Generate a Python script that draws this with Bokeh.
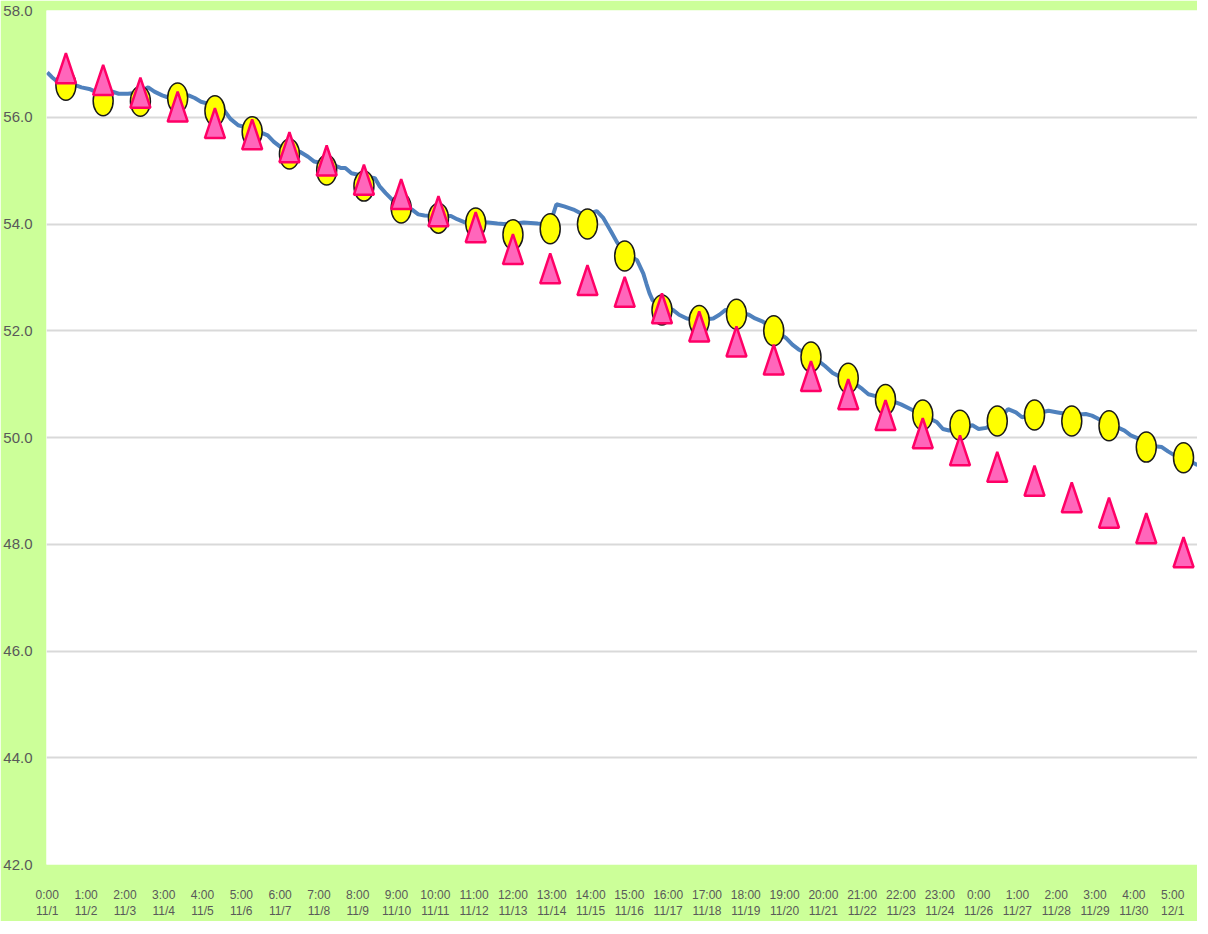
from datetime import datetime
from bokeh.plotting import figure
from bokeh.models import FixedTicker, NumeralTickFormatter, Range1d
from bokeh.embed import file_html
from bokeh.resources import INLINE

START = datetime(2020, 11, 1, 0, 0)

# x-axis tick labels (time / date), every 25 hours
tick_labels = [
    "0:00\n11/1", "1:00\n11/2", "2:00\n11/3", "3:00\n11/4", "4:00\n11/5",
    "5:00\n11/6", "6:00\n11/7", "7:00\n11/8", "8:00\n11/9", "9:00\n11/10",
    "10:00\n11/11", "11:00\n11/12", "12:00\n11/13", "13:00\n11/14", "14:00\n11/15",
    "15:00\n11/16", "16:00\n11/17", "17:00\n11/18", "18:00\n11/19", "19:00\n11/20",
    "20:00\n11/21", "21:00\n11/22", "22:00\n11/23", "23:00\n11/24", "0:00\n11/26",
    "1:00\n11/27", "2:00\n11/28", "3:00\n11/29", "4:00\n11/30", "5:00\n12/1",
]

# daily markers (at 12:00 of each day)
marker_days = [
    "11/1", "11/2", "11/3", "11/4", "11/5", "11/6", "11/7", "11/8", "11/9", "11/10",
    "11/11", "11/12", "11/13", "11/14", "11/15", "11/16", "11/17", "11/18", "11/19", "11/20",
    "11/21", "11/22", "11/23", "11/24", "11/25", "11/26", "11/27", "11/28", "11/29", "11/30",
    "12/1",
]
circle_values = [
    56.60, 56.31, 56.30, 56.36, 56.12, 55.73, 55.31, 55.01, 54.71, 54.30,
    54.11, 54.02, 53.80, 53.91, 54.00, 53.40, 52.39, 52.19, 52.31, 52.00,
    51.51, 51.11, 50.71, 50.42, 50.23, 50.31, 50.42, 50.31, 50.22, 49.82,
    49.62,
]
triangle_values = [
    56.92, 56.70, 56.46, 56.20, 55.89, 55.68, 55.44, 55.19, 54.83, 54.56,
    54.24, 53.94, 53.53, 53.17, 52.95, 52.73, 52.42, 52.08, 51.80, 51.46,
    51.15, 50.81, 50.42, 50.08, 49.76, 49.45, 49.19, 48.88, 48.59, 48.30,
    47.85,
]

# continuous series: hours since 11/1 0:00 and value
line_hours = [
    0, 3, 6, 12, 18, 22, 27, 31, 35, 42, 46, 52, 58, 63, 65, 69, 74, 78, 84, 91,
    95, 99, 104, 108, 114, 118, 123, 127, 132, 137, 142, 146, 150, 156, 163, 168,
    172, 180, 184, 189, 192, 196, 204, 211, 214, 218, 222, 228, 235, 239, 243, 252,
    260, 264, 269, 276, 284, 290, 294, 301, 307, 316, 323, 325, 328, 333, 339, 343,
    349, 354, 358, 363, 367, 372, 380, 384, 386, 388, 390, 397, 403, 407, 412, 420,
    429, 433, 437, 445, 452, 456, 461, 468, 476, 480, 484, 493, 501, 506, 510, 517,
    525, 529, 533, 541, 550, 557, 565, 573, 577, 581, 589, 596, 600, 605, 613, 619,
    624, 628, 637, 645, 651, 661, 669, 673, 677, 685, 694, 698, 703, 709, 718, 722,
    726, 733, 740, 741,
]
line_values = [
    56.84, 56.75, 56.68, 56.64, 56.60, 56.56, 56.53, 56.48, 56.47, 56.48, 56.44, 56.44,
    56.46, 56.53, 56.56, 56.48, 56.41, 56.37, 56.38, 56.41, 56.36, 56.29, 56.25, 56.20,
    56.13, 55.97, 55.85, 55.82, 55.76, 55.72, 55.66, 55.54, 55.45, 55.40, 55.35, 55.26,
    55.17, 55.12, 55.11, 55.05, 55.05, 54.95, 54.90, 54.86, 54.71, 54.58, 54.46, 54.36,
    54.27, 54.18, 54.16, 54.15, 54.15, 54.09, 54.03, 54.03, 54.03, 54.01, 54.00, 54.01,
    54.03, 54.01, 54.00, 54.10, 54.37, 54.33, 54.27, 54.21, 54.20, 54.24, 54.12, 53.87,
    53.66, 53.45, 53.32, 53.07, 52.88, 52.70, 52.57, 52.45, 52.39, 52.30, 52.23, 52.20,
    52.23, 52.30, 52.39, 52.35, 52.30, 52.23, 52.17, 52.02, 51.86, 51.74, 51.65, 51.52,
    51.34, 51.21, 51.15, 51.08, 50.91, 50.81, 50.78, 50.72, 50.62, 50.52, 50.40, 50.29,
    50.16, 50.13, 50.17, 50.23, 50.16, 50.18, 50.35, 50.53, 50.47, 50.38, 50.45, 50.50,
    50.47, 50.42, 50.44, 50.41, 50.35, 50.25, 50.13, 50.04, 49.98, 49.85, 49.82, 49.74,
    49.67, 49.60, 49.50, 49.48,
]

y_ticks = [42, 44, 46, 48, 50, 52, 54, 56, 58]


def hours_of(date_str, time_str="12:00"):
    m, d = (int(s) for s in date_str.split("/"))
    hh, mm = (int(s) for s in time_str.split(":"))
    dt = datetime(2020, m, d, hh, mm)
    return int(round((dt - START).total_seconds() / 3600))


tick_hours = []
for lab in tick_labels:
    t, d = lab.split("\n")
    tick_hours.append(hours_of(d, t))
marker_hours = [hours_of(d) for d in marker_days]

X_START, X_END = -0.5, 741.0
Y_START, Y_END = 42.0, 58.0
FRAME_W, FRAME_H = 1151, 854

GREEN = "#CCFF99"
LABEL = "#595959"
FONT = "Liberation Sans"

p = figure(
    frame_width=FRAME_W, frame_height=FRAME_H,
    min_border_left=41, min_border_right=0, min_border_top=10, min_border_bottom=54,
    x_range=Range1d(X_START, X_END), y_range=Range1d(Y_START, Y_END),
    output_backend="svg", toolbar_location=None,
)
p.background_fill_color = "white"
p.border_fill_color = GREEN
p.outline_line_color = None

p.xgrid.visible = False
p.ygrid.grid_line_color = "#D9D9D9"
p.ygrid.grid_line_width = 2

p.yaxis.ticker = FixedTicker(ticks=y_ticks)
p.yaxis.formatter = NumeralTickFormatter(format="0.0")
p.xaxis.ticker = FixedTicker(ticks=tick_hours)
p.xaxis.major_label_overrides = {h: lab for h, lab in zip(tick_hours, tick_labels)}

for ax in (p.xaxis[0], p.yaxis[0]):
    ax.axis_line_color = None
    ax.major_tick_line_color = None
    ax.minor_tick_line_color = None
    ax.major_label_text_color = LABEL
    ax.major_label_text_font = FONT
p.yaxis.major_label_text_font_size = "15px"
p.yaxis.major_label_standoff = 8
p.xaxis.major_label_text_font_size = "12px"
p.xaxis.major_label_standoff = 17

# continuous line
p.line(line_hours, line_values, line_color="#4F81BD", line_width=4)

# yellow ellipse markers
p.ellipse(marker_hours, circle_values, width=20, height=30,
          width_units="screen", height_units="screen",
          fill_color="#FFFF00", line_color="#1A1A1A", line_width=1.5)

# pink triangle markers (20 x 30 px), sized through the axis scales
px_per_h = FRAME_W / (X_END - X_START)
px_per_v = FRAME_H / (Y_END - Y_START)
hw = 10 / px_per_h
hh = 15 / px_per_v
tri_xs = [[h - hw, h, h + hw] for h in marker_hours]
tri_ys = [[v - hh, v + hh, v - hh] for v in triangle_values]
p.patches(tri_xs, tri_ys, fill_color="#FF66BB", line_color="#FF0066", line_width=2.5)

open("out.html", "w").write(file_html(p, INLINE))
